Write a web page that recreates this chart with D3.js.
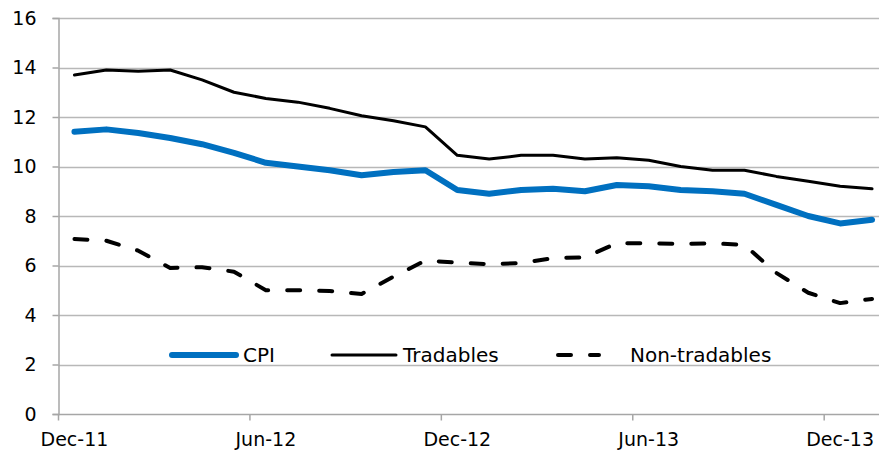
<!DOCTYPE html>
<html>
<head>
<meta charset="utf-8">
<script src="https://cdn.jsdelivr.net/npm/d3@7"></script>
<style>
  body { margin: 0; background: #fff; }
  text { font-family: "DejaVu Sans", Verdana, sans-serif; fill: #000; }
</style>
</head>
<body>
<script>
  const months = [
    'Dec-11', 'Jan-12', 'Feb-12', 'Mar-12', 'Apr-12', 'May-12', 'Jun-12', 'Jul-12', 'Aug-12',
    'Sep-12', 'Oct-12', 'Nov-12', 'Dec-12', 'Jan-13', 'Feb-13', 'Mar-13', 'Apr-13', 'May-13',
    'Jun-13', 'Jul-13', 'Aug-13', 'Sep-13', 'Oct-13', 'Nov-13', 'Dec-13', 'Jan-14'
  ];

  const cpi = [
    11.4, 11.5, 11.35, 11.15, 10.9, 10.55, 10.15, 10.0, 9.85, 9.65, 9.78, 9.85, 9.05,
    8.9, 9.05, 9.1, 9.0, 9.25, 9.2, 9.05, 9.0, 8.9, 8.45, 8.0, 7.7, 7.85
  ];

  const tradables = [
    13.7, 13.9, 13.85, 13.9, 13.5, 13.0, 12.75, 12.6, 12.35, 12.05, 11.85, 11.6, 10.45,
    10.3, 10.45, 10.45, 10.3, 10.35, 10.25, 10.0, 9.85, 9.85, 9.6, 9.4, 9.2, 9.1
  ];

  const nonTradables = [
    7.07, 7.0, 6.6, 5.9, 5.93, 5.75, 5.0, 5.0, 4.97, 4.85, 5.55, 6.2, 6.12,
    6.05, 6.1, 6.3, 6.33, 6.9, 6.9, 6.87, 6.9, 6.83, 5.7, 4.9, 4.48, 4.65
  ];

  const yTicks = [0, 2, 4, 6, 8, 10, 12, 14, 16];
  const xLabels = ['Dec-11', 'Jun-12', 'Dec-12', 'Jun-13', 'Dec-13'];

  const width = 879;
  const height = 451;
  const margin = { top: 18, right: -9, bottom: 37, left: 58.5 };

  const svg = d3.select('body')
    .append('svg')
    .attr('width', width)
    .attr('height', height);

  const x = d3.scaleBand()
    .domain(months)
    .range([margin.left, width - margin.right]);

  const y = d3.scaleLinear()
    .domain([0, 16])
    .range([height - margin.bottom, margin.top]);

  // gridlines
  svg.append('g')
    .selectAll('line')
    .data(yTicks.filter((d) => d > 0))
    .join('line')
    .attr('x1', margin.left)
    .attr('x2', width)
    .attr('y1', (d) => Math.round(y(d)) + 0.5)
    .attr('y2', (d) => Math.round(y(d)) + 0.5)
    .attr('stroke', '#b8b8b8')
    .attr('stroke-width', 1.5);

  // y axis
  const yAxis = svg.append('g')
    .attr('transform', `translate(${margin.left},0)`)
    .call(d3.axisLeft(y).tickValues(yTicks).tickSize(6).tickPadding(16));
  yAxis.select('.domain').attr('stroke', '#a6a6a6').attr('stroke-width', 1.5);
  yAxis.selectAll('.tick line').attr('stroke', '#a6a6a6').attr('stroke-width', 1.5);
  yAxis.selectAll('.tick text').style('font-size', '19px');

  // x axis: tick marks at the left boundary of every 6th category
  const base = Math.round(y(0)) + 0.5;
  svg.append('line')
    .attr('x1', margin.left)
    .attr('x2', width)
    .attr('y1', base)
    .attr('y2', base)
    .attr('stroke', '#a6a6a6')
    .attr('stroke-width', 1.5);

  svg.append('g')
    .selectAll('line')
    .data(xLabels)
    .join('line')
    .attr('x1', (d) => x(d))
    .attr('x2', (d) => x(d))
    .attr('y1', base)
    .attr('y2', base + 6)
    .attr('stroke', '#a6a6a6')
    .attr('stroke-width', 1.5);

  svg.append('g')
    .selectAll('text')
    .data(xLabels)
    .join('text')
    .attr('x', (d) => x(d) + x.bandwidth() / 2)
    .attr('y', base + 31)
    .attr('text-anchor', 'middle')
    .style('font-size', '19px')
    .text((d) => d);

  const series = [
    { name: 'CPI', values: cpi, color: '#0070c0', width: 6, dash: null, cap: 'round' },
    { name: 'Tradables', values: tradables, color: '#000', width: 3, dash: null, cap: 'round' },
    { name: 'Non-tradables', values: nonTradables, color: '#000', width: 4, dash: '13 19', cap: 'round' }
  ];

  const line = d3.line()
    .x((d, i) => x(months[i]) + x.bandwidth() / 2)
    .y((d) => y(d));

  svg.append('g')
    .selectAll('path')
    .data(series.slice().reverse())
    .join('path')
    .attr('d', (d) => line(d.values))
    .attr('fill', 'none')
    .attr('stroke', (d) => d.color)
    .attr('stroke-width', (d) => d.width)
    .attr('stroke-dasharray', (d) => d.dash)
    .attr('stroke-linecap', (d) => d.cap)
    .attr('stroke-linejoin', 'round');

  // legend
  const legendY = 355;
  const legendX = [170, 330, 556];
  const legend = svg.append('g')
    .selectAll('g')
    .data(series)
    .join('g')
    .attr('transform', (d, i) => `translate(${legendX[i]},${legendY})`);

  legend.append('line')
    .attr('x1', 2)
    .attr('x2', (d, i) => (i === 2 ? 43 : 66))
    .attr('stroke', (d) => d.color)
    .attr('stroke-width', (d) => d.width)
    .attr('stroke-dasharray', (d) => d.dash)
    .attr('stroke-linecap', (d) => d.cap);

  legend.append('text')
    .attr('x', (d, i) => (i === 2 ? 74 : 73))
    .attr('y', 7)
    .style('font-size', '20px')
    .text((d) => d.name);
</script>
</body>
</html>
